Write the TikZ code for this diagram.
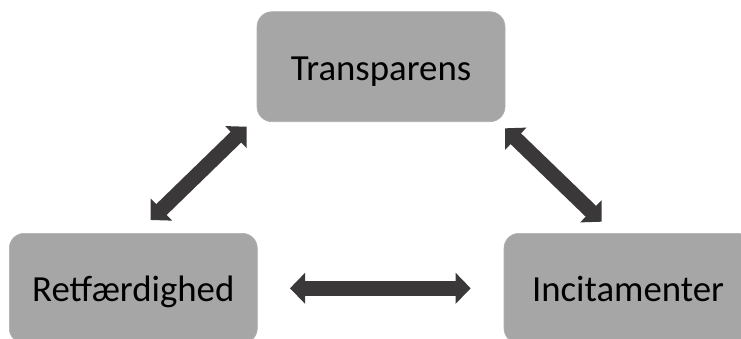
\documentclass[tikz,border=0pt]{standalone}
\usepackage{fontspec}
\setmainfont{Carlito}
\usetikzlibrary{arrows.meta}
\definecolor{boxgrey}{HTML}{A6A6A6}
\definecolor{boxedge}{HTML}{AFAFAF}
\definecolor{arrowgrey}{HTML}{3A3838}
\tikzset{
  stepbox/.style={rectangle, rounded corners=15pt, fill=boxgrey, draw=boxedge, line width=0.6pt,
    minimum width=248pt, minimum height=110pt, inner sep=0pt, text=black,
    text height=27pt, text depth=0pt,
    font=\fontsize{36.8}{44}\selectfont},
  bigarrow/.style={arrowgrey, line width=15pt,
    {Triangle[width=30pt,length=15pt]}-{Triangle[width=30pt,length=15pt]}}
}
\begin{document}
\begin{tikzpicture}[x=1pt,y=-1pt]
\useasboundingbox (0,0) rectangle (741,338);
\clip (0,0) rectangle (741,338);
\node[stepbox] (top) at (381,66.7) {Transparens};
\node[stepbox] (left) at (133.3,288.3) {Retfærdighed};
\node[stepbox] (right) at (628,288.3) {Incitamenter};
\coordinate (a1) at (246.7,126.7);
\coordinate (a2) at (150.7,220);
\coordinate (b1) at (505,128.3);
\coordinate (b2) at (601.7,221.7);
\coordinate (c1) at (290,288.3);
\coordinate (c2) at (470.7,288.3);
\draw[bigarrow] (a1) -- (a2);
\draw[bigarrow] (b1) -- (b2);
\draw[bigarrow] (c1) -- (c2);
\end{tikzpicture}
\end{document}
